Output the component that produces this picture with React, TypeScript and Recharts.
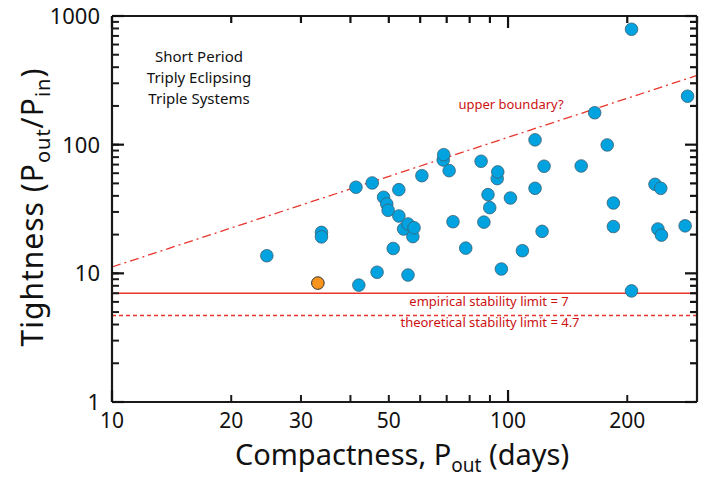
import { ScatterChart, Scatter, XAxis, YAxis, ReferenceLine } from 'recharts';

// outer period (days) and period ratio for each system
const P_OUT = [
  24.6, 33.8, 33.8, 41.3, 42.0, 45.4, 46.7, 48.5, 49.4, 49.8,
  51.3, 53.0, 53.0, 54.5, 55.9, 55.9, 57.5, 57.9, 60.6, 68.6,
  68.8, 71.0, 72.6, 78.2, 85.5, 86.9, 89.0, 89.9, 93.9, 94.2,
  96.2, 101.4, 108.7, 117, 117, 121.9, 123.3, 153, 165.5, 178,
  184.5, 184.5, 205, 205, 235, 239, 243, 244, 280, 284,
];
const TIGHTNESS = [
  13.7, 20.8, 19.2, 46.7, 8.1, 50.4, 10.2, 39, 34.6, 30.9,
  15.6, 44.7, 27.9, 22.1, 24.2, 9.7, 19.3, 22.6, 57.4, 76,
  83.6, 62.8, 25.2, 15.7, 74.3, 25, 40.9, 32.4, 54.5, 61.4,
  10.8, 38.5, 15, 109, 45.8, 21.2, 68, 68.3, 177, 99.5,
  35.2, 23.1, 789, 7.3, 49.2, 22.1, 45.8, 19.8, 23.4, 238,
];
// highlighted system
const SPECIAL_P_OUT = [33.1];
const SPECIAL_TIGHTNESS = [8.4];

const X_DOMAIN = [10, 300];
const Y_DOMAIN = [1, 1000];
const X_TICKS = [10, 20, 30, 40, 50, 60, 70, 80, 90, 100, 200, 300];
const X_LABELS = [10, 20, 30, 50, 100, 200];
const Y_DECADES = [1, 10, 100];
const Y_STEPS = [1, 2, 3, 4, 5, 6, 7, 8, 9];
const Y_LABELS = [1, 10, 100, 1000];

const EMPIRICAL_LIMIT = 7;
const THEORETICAL_LIMIT = 4.7;
const UPPER_BOUNDARY = [
  { x: 10, y: 11.2 },
  { x: 300, y: 345 },
];

const Y_TICKS = [...Y_DECADES.flatMap((d) => Y_STEPS.map((s) => s * d)), 1000];

const points = P_OUT.map((x, i) => ({ x, y: TIGHTNESS[i] }));
const specialPoints = SPECIAL_P_OUT.map((x, i) => ({ x, y: SPECIAL_TIGHTNESS[i] }));

const PLOT = { left: 112, right: 697, top: 16, bottom: 402 };
const FONT = '"Noto Sans", sans-serif';
const INK = '#1a1a1a';
const RED = '#cc1111';
const LINE_RED = '#e8352e';

const isDecade = (v: number) => v === 1 || v === 10 || v === 100 || v === 1000;

// labels, longer decade ticks, mirrored top ticks and the top frame edge
const BottomTick = ({ x, payload }: any) => {
  const v = payload.value;
  const len = isDecade(v) ? 12 : 7;
  return (
    <g>
      {isDecade(v) && (
        <path d={`M${x},${PLOT.bottom}L${x},${PLOT.bottom - len}`} stroke="#111" strokeWidth={2.2} />
      )}
      <path d={`M${x},${PLOT.top}L${x},${PLOT.top + len}`} stroke="#111" strokeWidth={2.2} />
      {v === X_DOMAIN[0] && (
        <path d={`M${PLOT.left},${PLOT.top}L${PLOT.right},${PLOT.top}`} stroke={INK} strokeWidth={2.2} />
      )}
      {X_LABELS.includes(v) && (
        <text x={x} y={PLOT.bottom + 26} textAnchor="middle" fontSize={21} fontFamily={FONT} fill="#111">
          {v}
        </text>
      )}
    </g>
  );
};

// labels, longer decade ticks, mirrored right ticks and the right frame edge
const LeftTick = ({ y, payload }: any) => {
  const v = payload.value;
  const len = isDecade(v) ? 12 : 7;
  return (
    <g>
      {isDecade(v) && (
        <path d={`M${PLOT.left},${y}L${PLOT.left + len},${y}`} stroke="#111" strokeWidth={2.2} />
      )}
      <path d={`M${PLOT.right},${y}L${PLOT.right - len},${y}`} stroke="#111" strokeWidth={2.2} />
      {v === Y_DOMAIN[0] && (
        <path d={`M${PLOT.right},${PLOT.top}L${PLOT.right},${PLOT.bottom}`} stroke={INK} strokeWidth={2.2} />
      )}
      {Y_LABELS.includes(v) && (
        <text x={PLOT.left - 12} y={y + 8} textAnchor="end" fontSize={22} fontFamily={FONT} fill="#111">
          {v}
        </text>
      )}
    </g>
  );
};

const BlueDot = ({ cx, cy }: any) => (
  <circle cx={cx} cy={cy} r={6.3} fill="#00a3e0" stroke="#3d5f70" strokeWidth={0.8} />
);

const OrangeDot = ({ cx, cy }: any) => (
  <circle cx={cx} cy={cy} r={6.3} fill="#f7941d" stroke="#333" strokeWidth={1} />
);

export default function App() {
  return (
    <div style={{ position: 'absolute', left: 0, top: 0, width: 718, height: 479 }}>
      <ScatterChart width={718} height={479} margin={{ top: 16, right: 21, bottom: 47, left: 52 }}>
        <XAxis
          dataKey="x"
          type="number"
          scale="log"
          domain={X_DOMAIN}
          allowDataOverflow
          ticks={X_TICKS}
          interval={0}
          tick={<BottomTick />}
          tickSize={-7}
          tickLine={{ stroke: INK, strokeWidth: 2 }}
          axisLine={{ stroke: INK, strokeWidth: 2.2 }}
          height={30}
        />
        <YAxis
          dataKey="y"
          type="number"
          scale="log"
          domain={Y_DOMAIN}
          allowDataOverflow
          ticks={Y_TICKS}
          interval={0}
          tick={<LeftTick />}
          tickSize={-7}
          tickLine={{ stroke: INK, strokeWidth: 2 }}
          axisLine={{ stroke: INK, strokeWidth: 2.2 }}
          width={60}
        />
        <ReferenceLine segment={UPPER_BOUNDARY} stroke={LINE_RED} strokeWidth={1.3} strokeDasharray="9 4 2 4" />
        <ReferenceLine y={EMPIRICAL_LIMIT} stroke={LINE_RED} strokeWidth={1.4} />
        <ReferenceLine y={THEORETICAL_LIMIT} stroke={LINE_RED} strokeWidth={1.4} strokeDasharray="4 3" />
        <Scatter data={points} shape={<BlueDot />} isAnimationActive={false} />
        <Scatter data={specialPoints} shape={<OrangeDot />} isAnimationActive={false} />
      </ScatterChart>

      <div
        style={{
          position: 'absolute', left: 129, top: 46, width: 140, textAlign: 'center',
          fontFamily: FONT, fontSize: 15, lineHeight: '21px', color: '#111',
        }}
      >
        Short Period<br />Triply Eclipsing<br />Triple Systems
      </div>

      <div style={{ position: 'absolute', left: 411, top: 95, width: 200, textAlign: 'center', fontFamily: FONT, fontSize: 13, color: RED }}>
        upper boundary?
      </div>
      <div style={{ position: 'absolute', left: 389, top: 292, width: 200, textAlign: 'center', fontFamily: FONT, fontSize: 13, color: RED }}>
        empirical stability limit = 7
      </div>
      <div style={{ position: 'absolute', left: 390, top: 313, width: 200, textAlign: 'center', fontFamily: FONT, fontSize: 13, color: RED }}>
        theoretical stability limit = 4.7
      </div>

      <div
        style={{
          position: 'absolute', left: 102, top: 434, width: 600, textAlign: 'center',
          fontFamily: FONT, fontSize: 29, color: '#111', whiteSpace: 'nowrap',
        }}
      >
        Compactness, P<sub style={{ fontSize: 19 }}>out</sub> (days)
      </div>
      <div
        style={{
          position: 'absolute', left: 33, top: 207, width: 400, textAlign: 'center',
          fontFamily: FONT, fontSize: 30, letterSpacing: 1, color: '#111', whiteSpace: 'nowrap',
          transform: 'translate(-50%, -50%) rotate(-90deg)',
        }}
      >
        Tightness (P<sub style={{ fontSize: 20 }}>out</sub>/P<sub style={{ fontSize: 20 }}>in</sub>)
      </div>
    </div>
  );
}
